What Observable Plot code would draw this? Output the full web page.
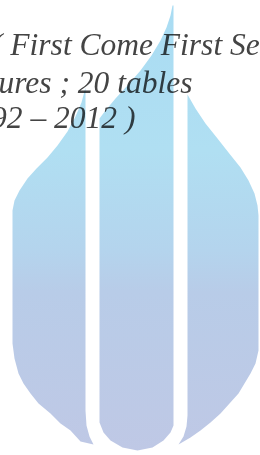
<!DOCTYPE html>
<html>
<head>
<meta charset="utf-8">
<script src="https://cdn.jsdelivr.net/npm/d3@7"></script>
<script src="https://cdn.jsdelivr.net/npm/@observablehq/plot@0.6"></script>
<style>
  html, body { margin: 0; padding: 0; background: #ffffff; }
  #chart svg { display: block; }
</style>
</head>
<body>
<div id="chart"></div>
<script>
// Text lines visible in the picture (cut at the frame edges)
const textLines = ["( First Come First Se", "ures ; 20 tables", "92 \u2013 2012 )"];
const textLeft = [-8.5, -2, -9.5];
const textBaseline = [54, 92, 127];

// Logo outline points (pixel space)
const leftShape = [
  [85, 87], [85, 410], [86, 425], [89, 436], [93, 444],
  [80, 441], [70, 430], [60, 423], [50, 413], [38, 403], [30, 393], [23, 383], [18, 373], [14, 358], [12, 343],
  [12, 210], [14, 200], [19, 190], [27, 178], [36, 168], [47, 157], [57, 145], [67, 131], [75, 116], [81, 102]
];
const middleShape = [
  [172, 5], [173, 5], [173, 425], [170, 432], [163, 440], [152, 447], [137, 450], [122, 447], [110, 440], [103, 432], [99, 422],
  [99, 118], [105, 110], [115, 98], [127, 85], [140, 70], [151, 55], [160, 40], [166, 27], [170, 15]
];
const rightShape = [
  [187, 94], [195, 108], [205, 123], [217, 138], [228, 152], [240, 167], [248, 180], [254, 193], [257, 205],
  [258, 215], [258, 350], [255, 363], [250, 373], [244, 383], [238, 393], [229, 403], [220, 413], [210, 422], [200, 430], [190, 437], [178, 444],
  [183, 436], [186, 426], [187, 415]
];
const gradientOffsets = [0, 0.33, 0.55, 0.64, 1];
const gradientColors = ["#a9dcf3", "#b0dff2", "#b4d4ed", "#b8cce8", "#bfc8e5"];

const shapes = [leftShape, middleShape, rightShape].map(ring => ({
  type: "Feature",
  properties: {},
  geometry: {type: "Polygon", coordinates: [[...ring, ring[0]]]}
}));

const lines = textLines.map((t, i) => ({text: t, x: textLeft[i], y: textBaseline[i]}));

const chart = Plot.plot({
  width: 260,
  height: 455,
  margin: 0,
  projection: {type: "identity", clip: false},
  style: {background: "#ffffff"},
  marks: [
    Plot.text(lines, {
      x: "x", y: "y", text: "text",
      textAnchor: "start", lineAnchor: "bottom",
      fontFamily: "Liberation Serif, Times New Roman, serif",
      fontStyle: "italic", fontSize: 31.5, fill: "#444444"
    }),
    Plot.geo(shapes, {fill: "url(#logoGrad)", stroke: "none", mixBlendMode: "multiply"})
  ]
});

const svg = d3.select(chart);
const grad = svg.insert("defs", ":first-child")
  .append("linearGradient")
  .attr("id", "logoGrad")
  .attr("gradientUnits", "userSpaceOnUse")
  .attr("x1", 0).attr("y1", 0).attr("x2", 0).attr("y2", 455);
gradientOffsets.forEach((o, i) => {
  grad.append("stop").attr("offset", o).attr("stop-color", gradientColors[i]);
});
svg.selectAll("g[aria-label='geo']").style("mix-blend-mode", "multiply");

document.getElementById("chart").appendChild(chart);
</script>
</body>
</html>
